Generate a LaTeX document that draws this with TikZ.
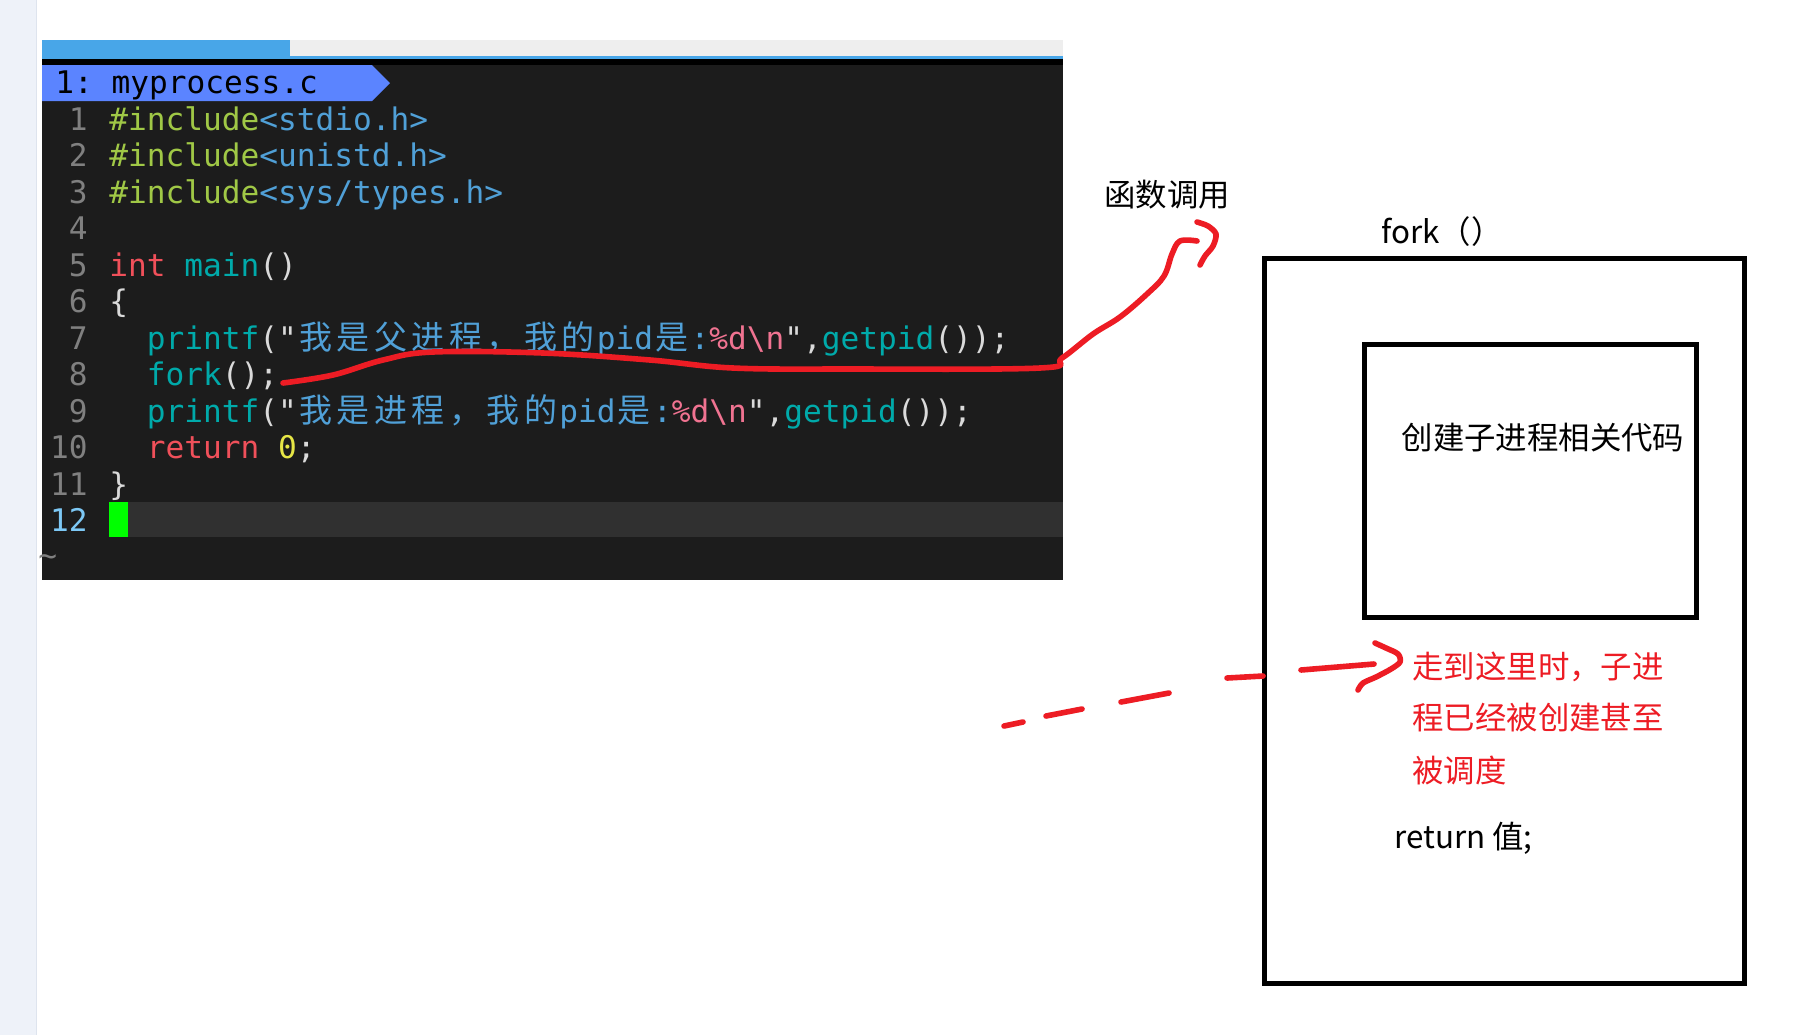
\documentclass[tikz,border=0pt]{standalone}
\usepackage{fontspec}
\usepackage{xcolor}
\usepackage{tikz}
\setmainfont{Noto Sans CJK SC}
\setmonofont{DejaVu Sans Mono}
\newfontfamily\cjk{Noto Sans CJK SC}
\definecolor{vimbg}{RGB}{28,28,28}
\definecolor{curline}{RGB}{48,48,48}
\definecolor{tabblue}{RGB}{72,166,232}
\definecolor{filebar}{RGB}{91,132,255}
\definecolor{tabgrey}{RGB}{238,238,238}
\definecolor{sidegrey}{RGB}{238,242,249}
\definecolor{sideline}{RGB}{222,228,238}
\definecolor{lnum}{RGB}{128,128,128}
\definecolor{lnumcur}{RGB}{125,200,245}
\definecolor{preproc}{RGB}{160,200,70}
\definecolor{hdrblue}{RGB}{80,160,215}
\definecolor{kwred}{RGB}{240,80,90}
\definecolor{fnteal}{RGB}{0,170,170}
\definecolor{fmtpink}{RGB}{240,115,145}
\definecolor{numyel}{RGB}{230,230,70}
\definecolor{punct}{RGB}{218,218,218}
\definecolor{penred}{RGB}{237,28,36}
\newcommand\cc[2]{\textcolor{#1}{#2}}
\newcommand\cjcell[1]{\makebox[1.204em]{\cjk\fontsize{16.5}{18}\selectfont#1}}
\def\cjrun#1{\cjstep#1\relax}
\def\cjstep#1{\ifx\relax#1\else\cjcell{#1}\expandafter\cjstep\fi}

\begin{document}
\begin{tikzpicture}[x=0.5pt, y=-0.5pt,
  code/.style={font=\ttfamily\fontsize{15.57}{18}\selectfont, anchor=base west, inner sep=0, text=punct},
  lnumber/.style={font=\ttfamily\fontsize{15.57}{18}\selectfont, anchor=base east, inner sep=0, text=lnum},
  notetext/.style={font=\fontsize{15.7}{18}\selectfont, inner sep=0},
  redpen/.style={penred, line width=2.8pt, line cap=round, line join=round},
  frame/.style={line width=2.5pt}]
  \useasboundingbox (0,0) rectangle (1818,1035);
  \fill[white] (0,0) rectangle (1818,1035);
  \fill[sidegrey] (0,0) rectangle (36,1035);
  \draw[sideline] (36,0) -- (36,1035);

  \fill[tabgrey] (290,40) rectangle (1063,56);
  \fill[tabblue] (42,40) rectangle (290,56);
  \fill[tabblue] (42,56) rectangle (1063,59);
  \fill[black] (42,59) rectangle (1063,65);
  \fill[vimbg] (42,65) rectangle (1063,580);
  \fill[filebar] (42,65) -- (372,65) -- (390,83) -- (372,101) -- (42,101) -- cycle;
  \node[code, text=black] (fname) at (55,93) {1: myprocess.c};

  \fill[curline] (128,502) rectangle (1063,537);
  \fill[green] (109,502) rectangle (128,537);
  \foreach \n in {1,...,11}
    \node[lnumber] (ln\n) at (88,{130+36.5*(\n-1)}) {\n};
  \node[lnumber, text=lnumcur] (ln12) at (88,531.5) {12};

  \node[code] (l1) at (109,130) {\cc{preproc}{\#include}\cc{hdrblue}{<stdio.h>}};
  \node[code] (l2) at (109,166.5) {\cc{preproc}{\#include}\cc{hdrblue}{<unistd.h>}};
  \node[code] (l3) at (109,203) {\cc{preproc}{\#include}\cc{hdrblue}{<sys/types.h>}};
  \node[code] (l5) at (109,276) {\cc{kwred}{int} \cc{fnteal}{main}()};
  \node[code] (l6) at (109,312.5) {\{};
  \node[code] (l7) at (146.5,349) {\cc{fnteal}{printf}("\cc{hdrblue}{\cjrun{我是父进程，我的}pid\cjrun{是}:}\cc{fmtpink}{\%d\textbackslash n}",\cc{fnteal}{getpid}());};
  \node[code] (l8) at (146.5,385.5) {\cc{fnteal}{fork}();};
  \node[code] (l9) at (146.5,422) {\cc{fnteal}{printf}("\cc{hdrblue}{\cjrun{我是进程，我的}pid\cjrun{是}:}\cc{fmtpink}{\%d\textbackslash n}",\cc{fnteal}{getpid}());};
  \node[code] (l10) at (146.5,458.5) {\cc{kwred}{return} \cc{numyel}{0};};
  \node[code] (l11) at (109,495) {\}};
  \node[code, text=lnum] (eob) at (38,566) {\textasciitilde};

  \draw[frame] (1264.5,258.5) rectangle (1744.5,983.5);
  \draw[frame] (1364.5,344.5) rectangle (1696.5,617.5);
  \node[notetext] (callnote) at (1167,195) {函数调用};
  \node[notetext, anchor=west] (forkname) at (1381,232) {fork（）};
  \node[notetext] (childcode) at (1543,438) {创建子进程相关代码};
  \node[notetext, text=penred, anchor=west] (note1) at (1412,667) {走到这里时，子进};
  \node[notetext, text=penred, anchor=west] (note2) at (1412,718) {程已经被创建甚至};
  \node[notetext, text=penred, anchor=west] (note3) at (1412,770) {被调度};
  \node[notetext, anchor=west] (retval) at (1394,838) {return 值;};

  \coordinate (callstart) at (283,383);
  \coordinate (callend) at (1197,241);
  \draw[redpen] plot[smooth, tension=0.6] coordinates {(callstart) (333,375) (383,360) (433,352) (543,353) (650,360) (733,368) (850,369) (1040,368) (1062,358) (1093,334) (1120,317) (1147,294) (1164,276) (1172,254) (1180,241) (callend)};
  \draw[redpen] plot[smooth] coordinates {(1197,222) (1208,226) (1216,234) (1213,246) (1205,256) (1200,265)};

  \foreach \a/\b in {{1004,726}/{1023,722}, {1046,716}/{1082,709}, {1121,702}/{1169,693}, {1227,678}/{1263,676}}
    \draw[redpen] (\a) -- (\b);
  \coordinate (hereto) at (1374,664);
  \draw[redpen] (1301,670) -- (hereto);
  \draw[redpen] plot[smooth] coordinates {(1375,643) (1386,648) (1398,654) (1400,662) (1391,669) (1376,677) (1363,683) (1358,690)};
\end{tikzpicture}
\end{document}
